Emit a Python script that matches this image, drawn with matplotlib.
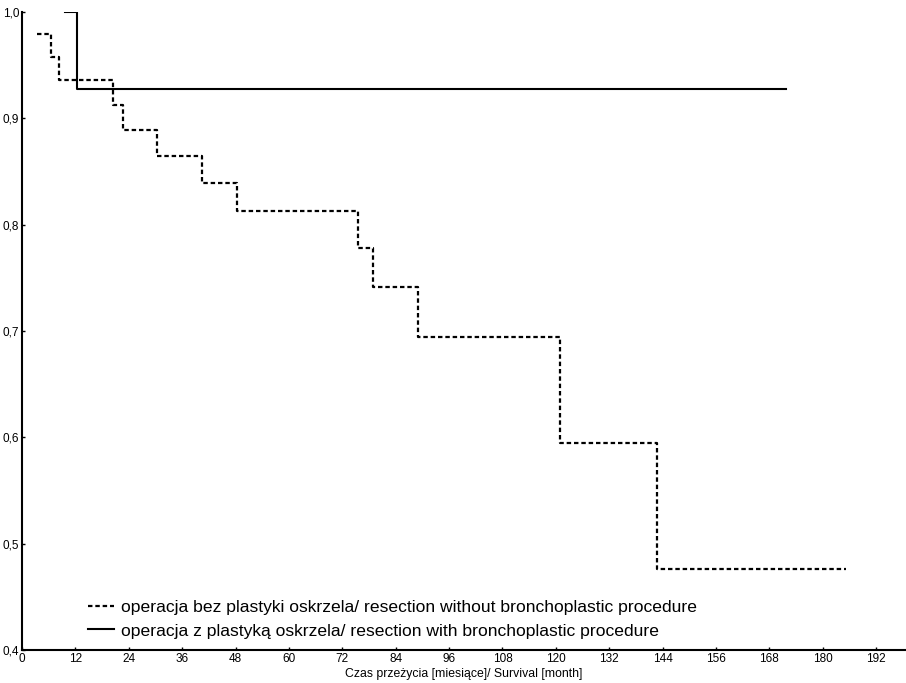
import matplotlib
matplotlib.use("Agg")
import matplotlib.pyplot as plt
from matplotlib.ticker import FuncFormatter

plt.rcParams["font.family"] = ["Liberation Sans", "DejaVu Sans"]

# Kaplan-Meier estimates
t_without = [3.4, 6.5, 8.3, 20.4, 22.7, 30.3, 40.4, 48.3, 75.5, 78.9, 89.0, 120.9, 142.7, 185.2]
s_without = [0.979, 0.958, 0.936, 0.913, 0.889, 0.865, 0.839, 0.813, 0.778, 0.741, 0.694, 0.595, 0.476, 0.476]
t_with = [9.7, 12.4, 171.7]
s_with = [1.0, 0.928, 0.928]

label_without = "operacja bez plastyki oskrzela/ resection without bronchoplastic procedure"
label_with = "operacja z plastyką oskrzela/ resection with bronchoplastic procedure"
x_ticks = list(range(0, 193, 12))
y_ticks = [0.4, 0.5, 0.6, 0.7, 0.8, 0.9, 1.0]

fig = plt.figure(figsize=(9.06, 6.83), dpi=100)
ax = fig.add_axes([0.0243, 0.0483, 0.9757, 0.9341])

ax.plot(t_without, s_without, drawstyle="steps-post", color="black", lw=1.6,
        linestyle=(0, (2, 1.3)), label=label_without)
ax.plot(t_with, s_with, drawstyle="steps-post", color="black", lw=1.5,
        label=label_with)

ax.set_xlim(0, 198.7)
ax.set_ylim(0.4, 1.0)
ax.set_xticks(x_ticks)
ax.set_yticks(y_ticks)
ax.yaxis.set_major_formatter(FuncFormatter(lambda v, p: f"{v:.1f}".replace(".", ",")))
ax.tick_params(axis="both", direction="in", length=2, width=1, labelsize=8.5, pad=2)

for side in ["top", "right"]:
    ax.spines[side].set_visible(False)
for side in ["left", "bottom"]:
    ax.spines[side].set_linewidth(1.5)

ax.set_xlabel("Czas przeżycia [miesiące]/ Survival [month]", fontsize=8.8, labelpad=2)

ax.legend(loc="lower left", frameon=False, fontsize=12.6, handlelength=1.45,
          handletextpad=0.4, labelspacing=0.45, borderpad=0, borderaxespad=0,
          bbox_to_anchor=(0.075, 0.018))

fig.savefig("out.png", dpi=100)
